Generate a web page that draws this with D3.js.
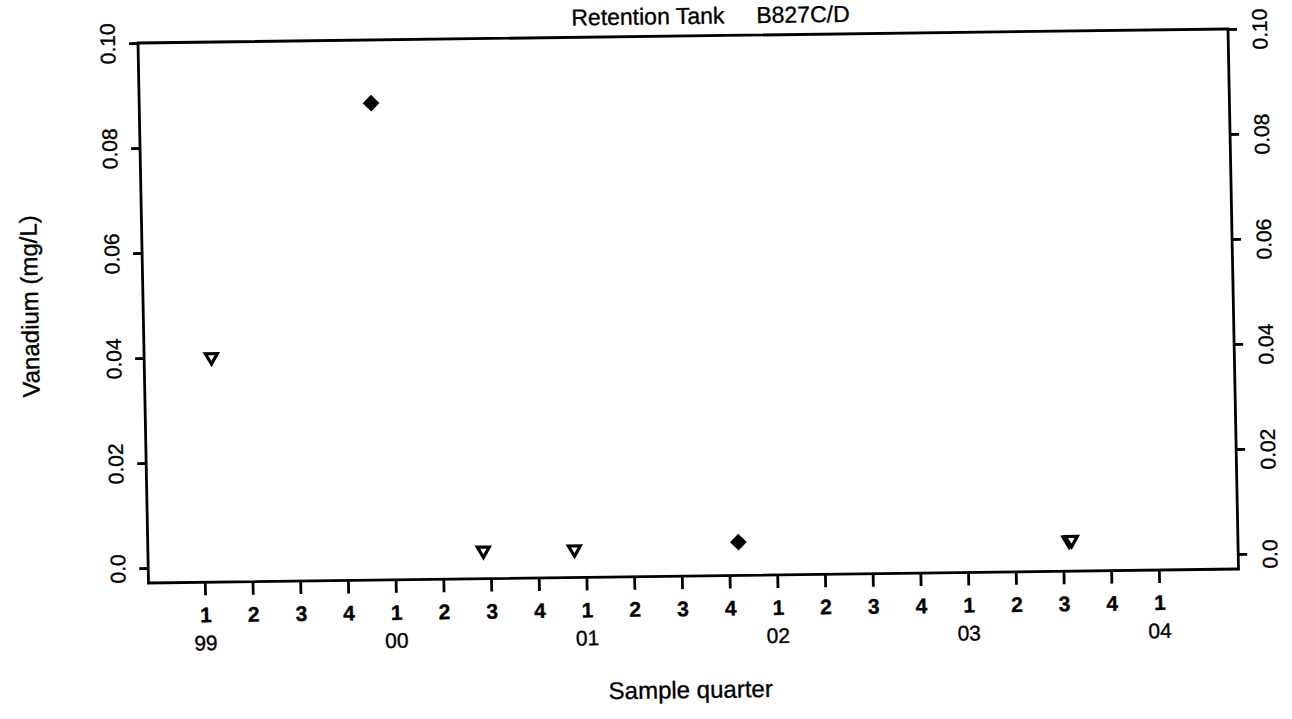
<!DOCTYPE html>
<html>
<head>
<meta charset="utf-8">
<script src="https://cdn.jsdelivr.net/npm/d3@7"></script>
<style>
  html, body { margin: 0; padding: 0; background: #fff; }
  svg { display: block; }
  text { font-family: "Liberation Sans", Arial, Helvetica, sans-serif; fill: #000; stroke: #000; stroke-width: 0.35px; }
</style>
</head>
<body>
<svg id="chart" width="1292" height="719"></svg>
<script>
// ---- data ----
const titleText = "Retention Tank     B827C/D";
const yLabel = "Vanadium (mg/L)";
const xLabel = "Sample quarter";
const quarterLabels = ["1","2","3","4","1","2","3","4","1","2","3","4","1","2","3","4","1","2","3","4","1"];
const yearLabels = ["99","00","01","02","03","04"];
const yearTickIndex = [0, 4, 8, 12, 16, 20];
const yTicks = [0, 0.02, 0.04, 0.06, 0.08, 0.10];
const yTickLabels = ["0.0", "0.02", "0.04", "0.06", "0.08", "0.10"];
// detected results (filled diamonds): position in quarters since 1999 Q1
const detectedX = [3.68, 11.2];
const detectedY = [0.088, 0.0035];
// non-detects / reporting limits (open down-triangles)
const nondetectX = [0.23, 5.85, 7.76, 18.13, 18.18];
const nondetectY = [0.040, 0.0025, 0.0025, 0.003, 0.0031];

// ---- layout ----
const W = 1090, H = 540;
const svg = d3.select("#chart");
// the scanned page is slightly skewed: draw the plot in a sheared frame
const g = svg.append("g")
  .attr("transform", "matrix(1,-0.01285,0.01944,1,138,43)");

const x = d3.scaleLinear().domain([-1.18, 21.67]).range([0, W]);
const y = d3.scaleLinear().domain([0, 0.1]).range([525, 0]);

const lw = 2.8;

// frame
g.append("rect").attr("x", 0).attr("y", 0).attr("width", W).attr("height", H)
  .attr("fill", "none").attr("stroke", "#000").attr("stroke-width", lw);

// left axis
const yAxisL = d3.axisLeft(y).tickValues(yTicks).tickSize(9).tickSizeOuter(0)
  .tickFormat((d, i) => yTickLabels[i]);
const gl = g.append("g").call(yAxisL);
gl.select(".domain").remove();
gl.selectAll(".tick line").attr("stroke", "#000").attr("stroke-width", lw);
gl.selectAll(".tick text")
  .attr("x", null).attr("dy", null)
  .attr("text-anchor", "middle")
  .attr("font-size", 21)
  .attr("transform", "translate(-23,0) rotate(-90)");

// right axis
const yAxisR = d3.axisRight(y).tickValues(yTicks).tickSize(9).tickSizeOuter(0)
  .tickFormat((d, i) => yTickLabels[i]);
const gr = g.append("g").attr("transform", `translate(${W},0)`).call(yAxisR);
gr.select(".domain").remove();
gr.selectAll(".tick line").attr("stroke", "#000").attr("stroke-width", lw);
gr.selectAll(".tick text")
  .attr("x", null).attr("dy", null)
  .attr("text-anchor", "middle")
  .attr("font-size", 21)
  .attr("transform", "translate(39,0) rotate(-90)");

// bottom axis (quarters)
const xAxis = d3.axisBottom(x).tickValues(d3.range(quarterLabels.length))
  .tickSize(13).tickSizeOuter(0)
  .tickFormat((d, i) => quarterLabels[i]);
const gb = g.append("g").attr("transform", `translate(0,${H})`).call(xAxis);
gb.select(".domain").remove();
gb.selectAll(".tick line").attr("stroke", "#000").attr("stroke-width", lw);
gb.selectAll(".tick text")
  .attr("y", 40).attr("dy", null)
  .attr("font-size", 21).attr("font-weight", "bold");

// year labels
g.append("g").selectAll("text").data(yearLabels).join("text")
  .attr("x", (d, i) => x(yearTickIndex[i]))
  .attr("y", H + 68)
  .attr("text-anchor", "middle")
  .attr("font-size", 21)
  .text(d => d);

// markers
const tri = d3.symbol().type(d3.symbolTriangle).size(62)();
const dia = d3.symbol().type(d3.symbolSquare).size(140)();

g.append("g").selectAll("path").data(nondetectX).join("path")
  .attr("d", tri)
  .attr("transform", (d, i) => `translate(${x(d)},${y(nondetectY[i])}) rotate(180)`)
  .attr("fill", "#fff").attr("stroke", "#000").attr("stroke-width", 3.2)
  .attr("stroke-linejoin", "miter");

g.append("g").selectAll("path").data(detectedX).join("path")
  .attr("d", dia)
  .attr("transform", (d, i) => `translate(${x(d)},${y(detectedY[i])}) rotate(45)`)
  .attr("fill", "#000");

// title
g.append("text")
  .attr("x", 712).attr("y", -12)
  .attr("text-anchor", "end")
  .attr("font-size", 23)
  .attr("xml:space", "preserve")
  .style("white-space", "pre")
  .text(titleText);

// axis titles
g.append("text")
  .attr("transform", `translate(-105,${H / 2 - 8}) rotate(-90)`)
  .attr("text-anchor", "middle")
  .attr("font-size", 24)
  .text(yLabel);

g.append("text")
  .attr("x", 540).attr("y", H + 122)
  .attr("text-anchor", "middle")
  .attr("font-size", 24)
  .text(xLabel);
</script>
</body>
</html>
